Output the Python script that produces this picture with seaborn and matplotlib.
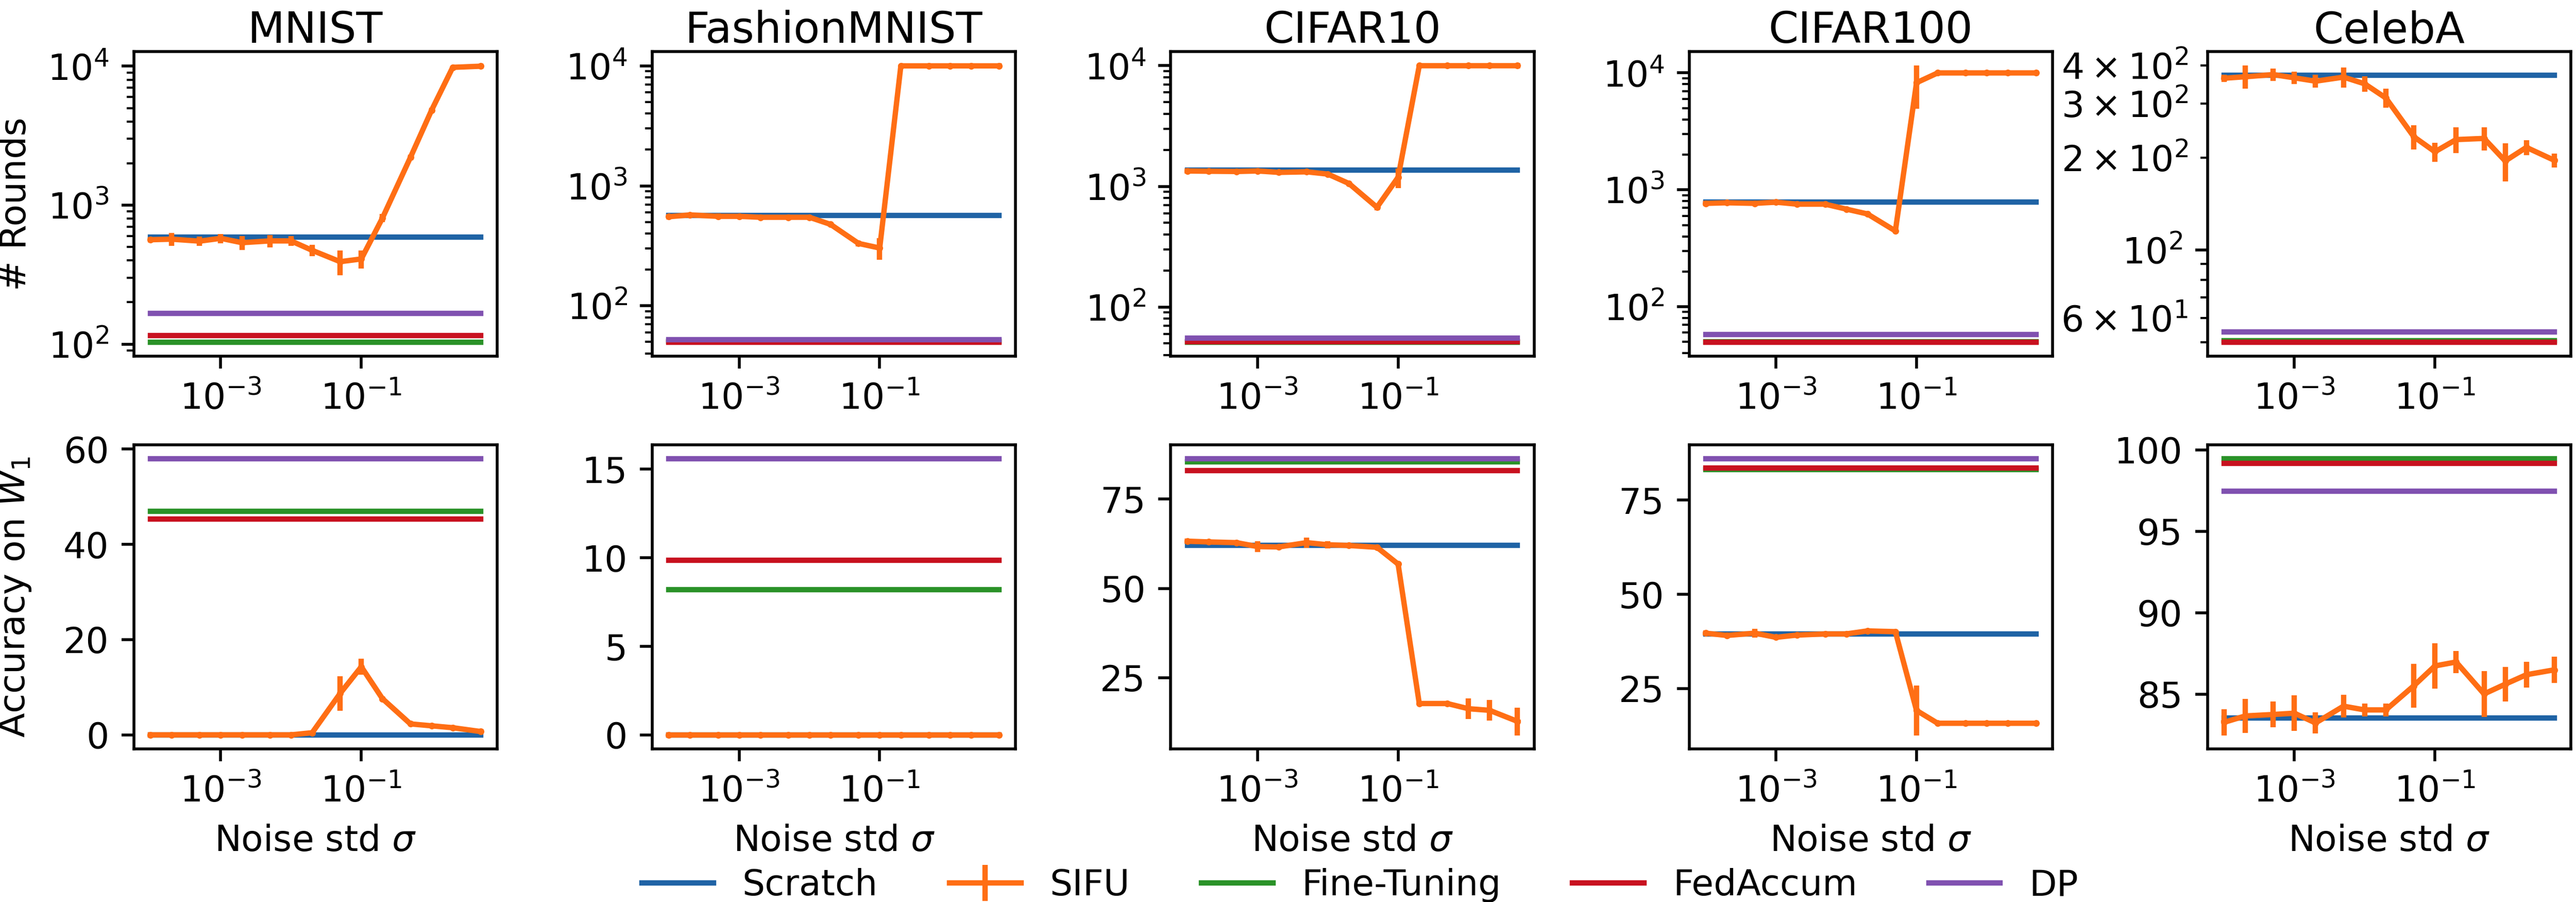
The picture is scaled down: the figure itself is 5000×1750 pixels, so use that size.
import matplotlib
matplotlib.use("Agg")
import matplotlib.pyplot as plt
import matplotlib.ticker as mticker
import seaborn as sns

# ---------------- data ----------------
sigma = [1e-4, 2e-4, 5e-4, 1e-3, 2e-3, 5e-3, 1e-2, 2e-2, 5e-2, 1e-1, 2e-1, 5e-1, 1, 2, 5]
datasets = ["MNIST", "FashionMNIST", "CIFAR10", "CIFAR100", "CelebA"]
methods = ["Scratch", "SIFU", "Fine-Tuning", "FedAccum", "DP"]

# baselines: number of rounds (per dataset)
rounds_scratch = [591, 569, 1365, 788, 371]
rounds_finetune = [103, 50.5, 51.0, 50.0, 50.6]
rounds_fedaccum = [115, 49.6, 51.4, 49.6, 50.0]
rounds_dp = [166, 52.4, 55.5, 58.1, 54.0]

# baselines: accuracy on W1 (per dataset)
acc_scratch = [0.0, 0.0, 62.07, 39.45, 83.56]
acc_finetune = [46.9, 8.2, 85.4, 83.1, 99.46]
acc_fedaccum = [45.3, 9.86, 82.96, 83.5, 99.16]
acc_dp = [58.0, 15.6, 86.3, 86.0, 97.45]

# SIFU rounds (mean, std)
sifu_rounds_mnist = [564, 569, 551, 577, 537, 553, 553, 473, 392, 410, 808, 2205, 4820, 9814, 10000]
sifu_rounds_mnist_err = [15, 60, 43, 45, 60, 57, 45, 45, 78, 60, 55, 100, 200, 100, 100]
sifu_rounds_fmnist = [553, 572, 557, 557, 547, 547, 547, 477, 331, 303, 10000, 10000, 10000, 10000, 10000]
sifu_rounds_fmnist_err = [10, 10, 30, 12, 10, 10, 10, 15, 18, 62, 50, 10, 10, 10, 10]
sifu_rounds_cifar10 = [1342, 1335, 1328, 1342, 1306, 1320, 1264, 1056, 671, 1190, 10000, 10000, 10000, 10000, 10000]
sifu_rounds_cifar10_err = [30, 20, 20, 20, 30, 20, 20, 20, 40, 220, 20, 20, 20, 20, 20]
sifu_rounds_cifar100 = [766, 775, 766, 784, 754, 754, 684, 622, 445, 8250, 10000, 10000, 10000, 10000, 10000]
sifu_rounds_cifar100_err = [20, 15, 15, 15, 15, 15, 20, 15, 15, 3300, 30, 20, 20, 20, 20]
sifu_rounds_celeba = [363, 367, 373, 364, 355, 366, 348, 313, 234, 209, 229, 231, 195, 216, 196]
sifu_rounds_celeba_err = [10, 32, 17, 17, 17, 28, 20, 22, 21, 15, 22, 20, 28, 12, 10]

# SIFU accuracy on W1 (mean, std)
sifu_acc_mnist = [0, 0, 0, 0, 0, 0, 0, 0.45, 8.7, 14.3, 7.6, 2.3, 1.9, 1.5, 0.7]
sifu_acc_mnist_err = [0.1, 0.1, 0.1, 0.1, 0.1, 0.1, 0.1, 0.2, 3.6, 1.7, 0.5, 0.4, 0.3, 0.3, 0.3]
sifu_acc_fmnist = [0, 0, 0, 0, 0, 0, 0, 0, 0, 0, 0, 0, 0, 0, 0]
sifu_acc_fmnist_err = [0.02] * 15
sifu_acc_cifar10 = [63.2, 63.0, 62.8, 61.7, 61.6, 62.8, 62.2, 62.0, 61.5, 56.8, 17.8, 17.8, 16.35, 15.9, 12.8]
sifu_acc_cifar10_err = [0.5, 0.4, 0.7, 1.5, 0.5, 1.4, 1.0, 0.4, 0.5, 0.5, 0.5, 0.4, 2.9, 2.9, 3.9]
sifu_acc_cifar100 = [39.7, 39.1, 39.7, 38.6, 39.2, 39.5, 39.5, 40.3, 40.1, 19.2, 15.8, 15.8, 15.8, 15.8, 15.8]
sifu_acc_cifar100_err = [0.6, 0.4, 1.2, 0.6, 0.4, 0.5, 0.5, 0.3, 0.4, 6.6, 0.3, 0.2, 0.2, 0.2, 0.2]
sifu_acc_celeba = [83.28, 83.67, 83.76, 83.84, 83.24, 84.27, 84.04, 84.04, 85.52, 86.74, 86.98, 85.02, 85.62, 86.2, 86.5]
sifu_acc_celeba_err = [0.8, 1.05, 0.8, 1.1, 0.65, 0.7, 0.4, 0.4, 1.33, 1.4, 0.67, 1.4, 1.05, 0.8, 0.8]

sifu_rounds = [sifu_rounds_mnist, sifu_rounds_fmnist, sifu_rounds_cifar10, sifu_rounds_cifar100, sifu_rounds_celeba]
sifu_rounds_err = [sifu_rounds_mnist_err, sifu_rounds_fmnist_err, sifu_rounds_cifar10_err,
                   sifu_rounds_cifar100_err, sifu_rounds_celeba_err]
sifu_acc = [sifu_acc_mnist, sifu_acc_fmnist, sifu_acc_cifar10, sifu_acc_cifar100, sifu_acc_celeba]
sifu_acc_err = [sifu_acc_mnist_err, sifu_acc_fmnist_err, sifu_acc_cifar10_err,
                sifu_acc_cifar100_err, sifu_acc_celeba_err]

colors = {"Scratch": "#1f63a5", "SIFU": "#ff6e14", "Fine-Tuning": "#2a9228",
          "FedAccum": "#c8111f", "DP": "#8051b0"}

# ---------------- figure ----------------
fig = plt.figure(figsize=(10, 3.5), dpi=500)
gs = fig.add_gridspec(2, 5, left=0.052, right=0.998, top=0.9426, bottom=0.16943,
                      wspace=0.4272, hspace=0.2912)
axes = [[fig.add_subplot(gs[r, c]) for c in range(5)] for r in range(2)]

LW = 1.5


def hline(ax, value, key):
    sns.lineplot(x=sigma, y=[value] * len(sigma), ax=ax, color=colors[key], lw=LW,
                 label=key, legend=False, errorbar=None, estimator=None, sort=False)


for c, name in enumerate(datasets):
    for r in range(2):
        ax = axes[r][c]
        if r == 0:
            base = [rounds_scratch[c], rounds_finetune[c], rounds_fedaccum[c], rounds_dp[c]]
            mean, err = sifu_rounds[c], sifu_rounds_err[c]
        else:
            base = [acc_scratch[c], acc_finetune[c], acc_fedaccum[c], acc_dp[c]]
            mean, err = sifu_acc[c], sifu_acc_err[c]

        hline(ax, base[0], "Scratch")
        ax.errorbar(sigma, mean, yerr=err, color=colors["SIFU"], lw=LW, elinewidth=LW,
                    marker="o", ms=1.9, mew=0, capsize=0, label="SIFU")
        hline(ax, base[1], "Fine-Tuning")
        hline(ax, base[2], "FedAccum")
        hline(ax, base[3], "DP")
        if ax.get_legend() is not None:
            ax.get_legend().remove()

        # scales set after drawing so data limits are computed in data space
        ax.set_xscale("log")
        if r == 0:
            ax.set_yscale("log")

        ax.xaxis.set_major_locator(mticker.FixedLocator([1e-3, 1e-1]))
        ax.xaxis.set_major_formatter(mticker.LogFormatterSciNotation())
        ax.xaxis.set_minor_locator(mticker.NullLocator())
        ax.set_xlabel("")
        ax.set_ylabel("")
        if r == 0:
            ax.set_title(name, fontsize=12, pad=2.4)
        else:
            ax.set_xlabel(r"Noise std $\sigma$", fontsize=10)

axes[0][0].set_ylabel("# Rounds", fontsize=10)
axes[1][0].set_ylabel(r"Accuracy on $W_1$", fontsize=10)
fig.align_ylabels([axes[0][0], axes[1][0]])

handles, labels = axes[0][0].get_legend_handles_labels()
order = [labels.index(m) for m in methods]
fig.legend([handles[i] for i in order], [labels[i] for i in order], loc="center",
           ncol=5, frameon=False, fontsize=10, bbox_to_anchor=(0.528, 0.0183))

fig.savefig("out.png", dpi=500)
